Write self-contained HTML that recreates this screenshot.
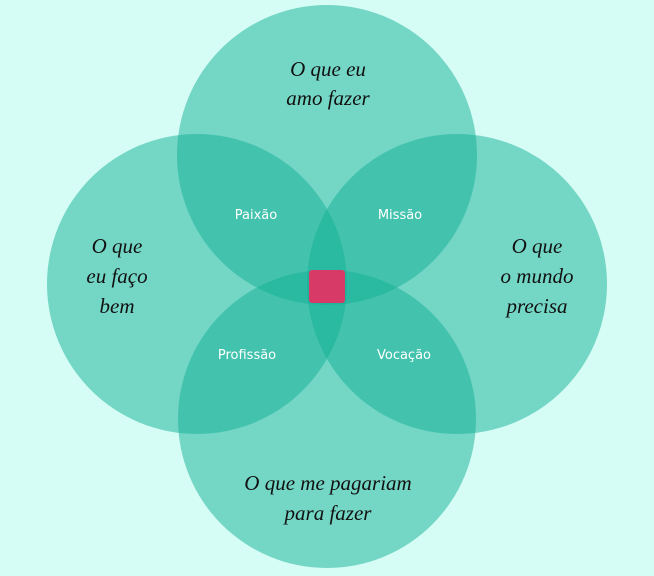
<!DOCTYPE html>
<html><head><meta charset="utf-8"><style>
html,body{margin:0;padding:0;background:#d6fdf5;}
svg{display:block}
.s{font-family:"Liberation Serif",serif;font-style:italic;font-size:21px;fill:#111;text-anchor:middle}
.w{font-family:"DejaVu Sans","Liberation Sans",sans-serif;font-size:13px;fill:#fff;text-anchor:middle}
</style></head><body>
<svg width="654" height="576" viewBox="0 0 654 576">
<rect width="654" height="576" fill="#d6fdf5"/>
<g fill="rgb(18,175,149)" fill-opacity="0.5">
<circle cx="327" cy="155" r="150"/>
<circle cx="197" cy="284" r="150"/>
<circle cx="457" cy="284" r="150"/>
<circle cx="327" cy="419" r="149"/>
</g>
<rect x="309" y="270" width="36" height="33" rx="3" fill="#d83a67"/>
<text class="s" x="328" y="76">O que eu</text>
<text class="s" x="328" y="105">amo fazer</text>
<text class="s" x="117" y="253">O que</text>
<text class="s" x="117" y="283">eu faço</text>
<text class="s" x="117" y="313">bem</text>
<text class="s" x="537" y="253">O que</text>
<text class="s" x="537" y="283">o mundo</text>
<text class="s" x="537" y="313">precisa</text>
<text class="s" x="328" y="490">O que me pagariam</text>
<text class="s" x="328" y="520">para fazer</text>
<text class="w" x="256" y="219">Paixão</text>
<text class="w" x="400" y="219">Missão</text>
<text class="w" x="247" y="359">Profissão</text>
<text class="w" x="404" y="359">Vocação</text>
</svg>
</body></html>
